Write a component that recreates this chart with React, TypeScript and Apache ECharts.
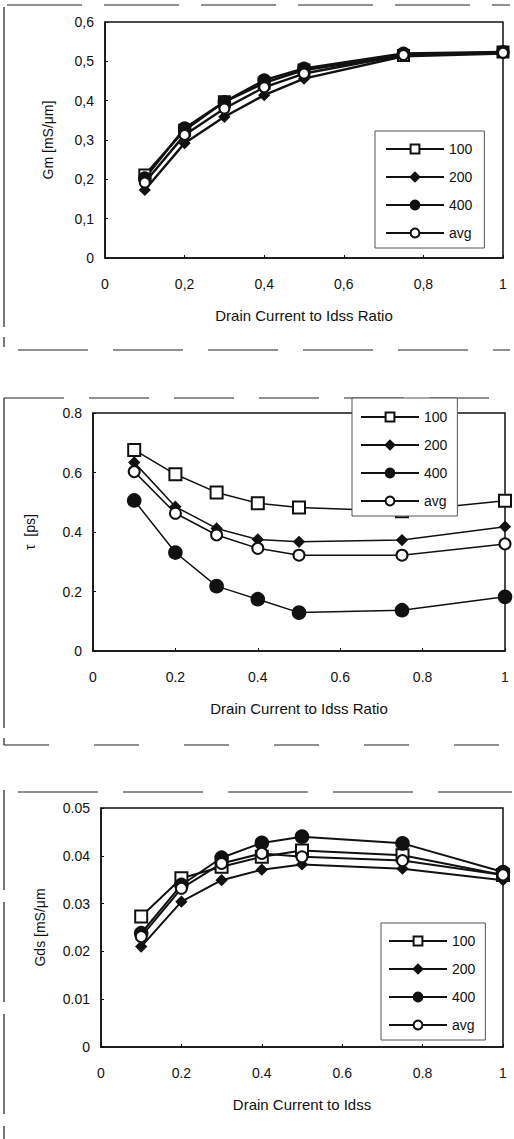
import React, { useEffect, useRef } from "react";
import * as echarts from "echarts";

// Shared x positions (drain current / Idss ratio)
const xRatio = [0.1, 0.2, 0.3, 0.4, 0.5, 0.75, 1];
const seriesNames = ["100", "200", "400", "avg"];

// Chart 1: Gm [mS/um]
const gm100 = [0.211, 0.325, 0.397, 0.445, 0.478, 0.515, 0.524];
const gm200 = [0.173, 0.292, 0.359, 0.414, 0.456, 0.513, 0.52];
const gm400 = [0.203, 0.33, 0.397, 0.452, 0.482, 0.52, 0.524];
const gmAvg = [0.192, 0.313, 0.38, 0.434, 0.469, 0.516, 0.522];

// Chart 2: tau [ps]
const tau100 = [0.676, 0.594, 0.533, 0.497, 0.482, 0.47, 0.505];
const tau200 = [0.634, 0.485, 0.412, 0.375, 0.367, 0.373, 0.418];
const tau400 = [0.506, 0.331, 0.218, 0.174, 0.129, 0.137, 0.182];
const tauAvg = [0.603, 0.463, 0.39, 0.345, 0.322, 0.322, 0.36];

// Chart 3: Gds [mS/um]
const gds100 = [0.0273, 0.0353, 0.0377, 0.0398, 0.0411, 0.0401, 0.036];
const gds200 = [0.021, 0.0304, 0.0349, 0.0371, 0.0382, 0.0373, 0.0349];
const gds400 = [0.0238, 0.0339, 0.0396, 0.0427, 0.044, 0.0426, 0.0366];
const gdsAvg = [0.0231, 0.0332, 0.0384, 0.0405, 0.0398, 0.039, 0.036];

const FONT = "'Liberation Sans', Arial, Helvetica, sans-serif";
const INK = "#111";

const symbols = ["emptyRect", "diamond", "circle", "emptyCircle"];

function pairs(vals: number[]) {
  return xRatio.map((x, i) => [x, vals[i]]);
}

function makeSeries(idx: number, sets: number[][], sizes: number[], lw: number) {
  return sets.map((vals, k) => ({
    type: "line",
    name: seriesNames[k],
    xAxisIndex: idx,
    yAxisIndex: idx,
    data: pairs(vals),
    symbol: symbols[k],
    symbolSize: sizes[k],
    color: INK,
    lineStyle: { color: INK, width: lw },
    itemStyle: { color: INK, borderColor: INK, borderWidth: 1.6 },
    emphasis: { disabled: true },
  }));
}

function xAxisCfg(idx: number, name: string, comma: boolean) {
  return {
    type: "value",
    gridIndex: idx,
    min: 0,
    max: 1,
    interval: 0.2,
    name,
    nameLocation: "middle",
    nameGap: 50,
    nameTextStyle: { fontFamily: FONT, fontSize: 15, color: INK },
    axisLine: { show: true, lineStyle: { color: INK, width: 1.5 } },
    axisTick: { show: true, inside: true, length: 3, lineStyle: { color: INK } },
    splitLine: { show: false },
    axisLabel: {
      margin: 19,
      fontFamily: FONT,
      fontSize: 14,
      color: INK,
      formatter: (v: number) => {
        if (v === 0) return "0";
        if (Math.abs(v - 1) < 1e-9) return "1";
        const s = v.toFixed(1);
        return comma ? s.replace(".", ",") : s;
      },
    },
  };
}

function yAxisCfg(idx: number, name: string, max: number, interval: number, digits: number, comma: boolean, gap: number) {
  return {
    type: "value",
    gridIndex: idx,
    min: 0,
    max,
    interval,
    name,
    nameLocation: "middle",
    nameRotate: 90,
    nameGap: gap,
    nameTextStyle: { fontFamily: FONT, fontSize: 14, color: INK },
    axisLine: { show: true, lineStyle: { color: INK, width: 1.5 } },
    axisTick: { show: true, inside: true, length: 3, lineStyle: { color: INK } },
    splitLine: { show: false },
    axisLabel: {
      margin: 11,
      fontFamily: FONT,
      fontSize: 14,
      color: INK,
      formatter: (v: number) => {
        if (v === 0) return "0";
        const s = v.toFixed(digits);
        return comma ? s.replace(".", ",") : s;
      },
    },
  };
}

function legendCfg(left: number, top: number, padding: number[]) {
  return {
    orient: "vertical",
    left,
    top,
    data: seriesNames,
    padding,
    itemGap: 14,
    itemWidth: 58,
    itemHeight: 11,
    backgroundColor: "#fff",
    borderColor: "#555",
    borderWidth: 1,
    selectedMode: false,
    textStyle: { fontFamily: FONT, fontSize: 14, color: INK },
  };
}

function dashLine(x1: number, y1: number, x2: number, y2: number, dash: number[]) {
  return {
    type: "line",
    shape: { x1, y1, x2, y2 },
    style: { stroke: "#222", lineWidth: 1.2, lineDash: dash },
    silent: true,
  };
}

export default function App() {
  const ref = useRef<HTMLDivElement>(null);

  useEffect(() => {
    if (!ref.current) return;
    const chart = echarts.init(ref.current, null, { renderer: "svg" });
    const gridBase = { show: true, borderColor: INK, borderWidth: 1.5, backgroundColor: "transparent" };
    chart.setOption({
      animation: false,
      backgroundColor: "#fff",
      grid: [
        { ...gridBase, left: 105, right: 11, top: 22, height: 236 },
        { ...gridBase, left: 93, right: 9, top: 413, height: 238 },
        { ...gridBase, left: 101, right: 11, top: 808, height: 239 },
      ],
      xAxis: [
        xAxisCfg(0, "Drain Current to Idss Ratio", true),
        xAxisCfg(1, "Drain Current to Idss Ratio", false),
        xAxisCfg(2, "Drain Current to Idss", false),
      ],
      yAxis: [
        yAxisCfg(0, "Gm [mS/μm]", 0.6, 0.1, 1, true, 50),
        yAxisCfg(1, "τ  [ps]", 0.8, 0.2, 1, false, 56),
        yAxisCfg(2, "Gds [mS/μm", 0.05, 0.01, 2, false, 54),
      ],
      legend: [
        legendCfg(375, 131, [11, 12, 8, 10]),
        legendCfg(352, 398, [12, 10, 8, 8]),
        legendCfg(381, 923, [11, 10, 8, 7]),
      ],
      series: [
        ...makeSeries(0, [gm100, gm200, gm400, gmAvg], [11, 10, 12, 10], 2.4),
        ...makeSeries(1, [tau100, tau200, tau400, tauAvg], [12, 10, 13, 11], 1.5),
        ...makeSeries(2, [gds100, gds200, gds400, gdsAvg], [12, 10, 13, 11], 2),
      ],
      graphic: [
        dashLine(7, 5, 510, 5, [75, 22]),
        dashLine(4, 7, 4, 347, [320, 10]),
        dashLine(18, 350, 510, 350, [70, 25]),
        dashLine(4, 398, 510, 398, [60, 25]),
        dashLine(4, 398, 4, 745, [330, 10]),
        dashLine(4, 745, 510, 745, [45, 45]),
        dashLine(18, 792, 512, 792, [80, 25]),
        dashLine(4, 790, 4, 1139, [100, 12]),
      ],
    });
    return () => chart.dispose();
  }, []);

  return (
    <div
      ref={ref}
      style={{ position: "absolute", left: 0, top: 0, width: 514, height: 1139, background: "#fff" }}
    />
  );
}
